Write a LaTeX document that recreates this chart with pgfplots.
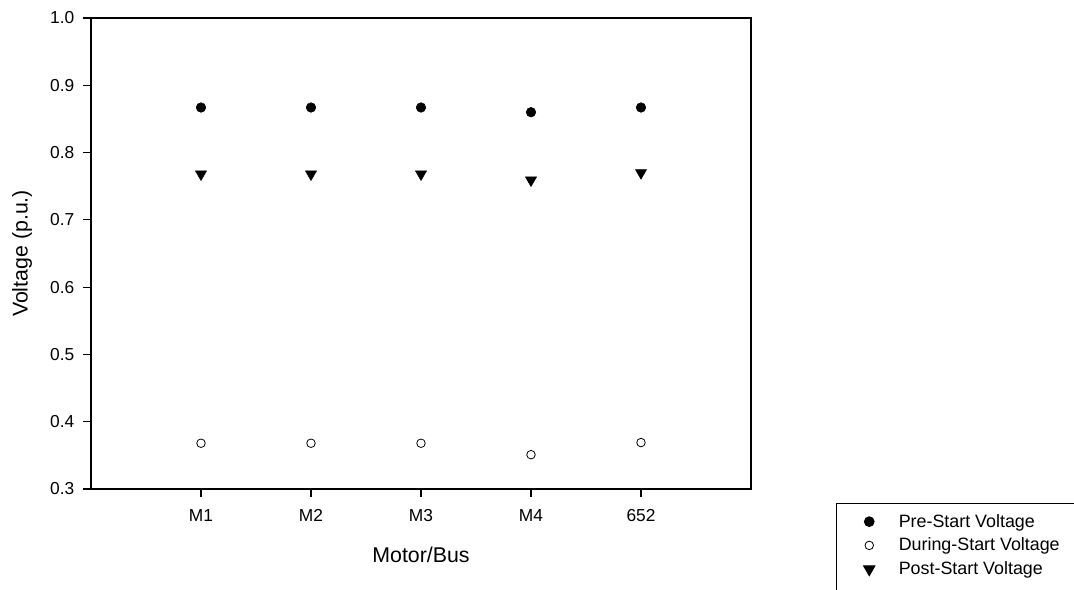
\documentclass[border=0pt]{standalone}
\usepackage{pgfplots}
\pgfplotsset{compat=1.18}
\usepackage{fontspec}
\setmainfont{Liberation Sans}
\begin{document}
\begin{tikzpicture}
\clip (-68.25pt,-75pt) rectangle (737.25pt,366.75pt);
\begin{axis}[
  at={(0pt,0pt)}, anchor=south west,
  scale only axis,
  width=495pt, height=353.25pt,
  xmin=-1, xmax=5, ymin=0.3, ymax=1.0,
  xtick={0,1,2,3,4},
  xticklabels={M1,M2,M3,M4,652},
  ytick={0.3,0.4,0.5,0.6,0.7,0.8,0.9,1.0},
  yticklabel style={xshift=-3pt, /pgf/number format/fixed, /pgf/number format/fixed zerofill, /pgf/number format/precision=1},
  /pgf/number format/assume math mode=true,
  tick align=outside,
  xtick pos=bottom, ytick pos=left,
  major tick length=6pt,
  tick style={line width=0.8pt, black},
  axis line style={line width=0.8pt},
  ticklabel style={font=\fontsize{13pt}{15pt}\selectfont},
  xticklabel style={yshift=-6pt},
  xlabel={Motor/Bus},
  ylabel={Voltage (p.u.)},
  label style={font=\fontsize{16pt}{19pt}\selectfont},
  xlabel style={at={(axis description cs:0.5,-0.140)}, anchor=center},
  ylabel style={at={(axis description cs:-0.1045,0.5)}, anchor=center},
  legend style={
    at={(1.1288,-0.0297)}, anchor=north west,
    draw=black, line width=0.8pt,
    font=\fontsize{13.4pt}{16pt}\selectfont,
    inner xsep=16pt, inner ysep=6pt,
    row sep=2.6pt, column sep=16pt,
    legend cell align=left,
  },
]
\addplot[only marks, mark=*, mark size=3.6pt, black] coordinates {
  (0,0.867) (1,0.867) (2,0.867) (3,0.860) (4,0.867)};
\addlegendentry{Pre-Start Voltage}
\addplot[only marks, mark=o, mark size=3.2pt, black, mark options={line width=0.6pt, fill=white}] coordinates {
  (0,0.368) (1,0.368) (2,0.368) (3,0.351) (4,0.369)};
\addlegendentry{During-Start Voltage}
\addplot[only marks, mark=triangle*, mark size=4.8pt, black, mark options={rotate=180}] coordinates {
  (0,0.768) (1,0.768) (2,0.768) (3,0.759) (4,0.770)};
\addlegendentry{Post-Start Voltage}
\addlegendimage{empty legend}
\addlegendentry{\hspace{150pt}}
\end{axis}
\end{tikzpicture}
\end{document}
